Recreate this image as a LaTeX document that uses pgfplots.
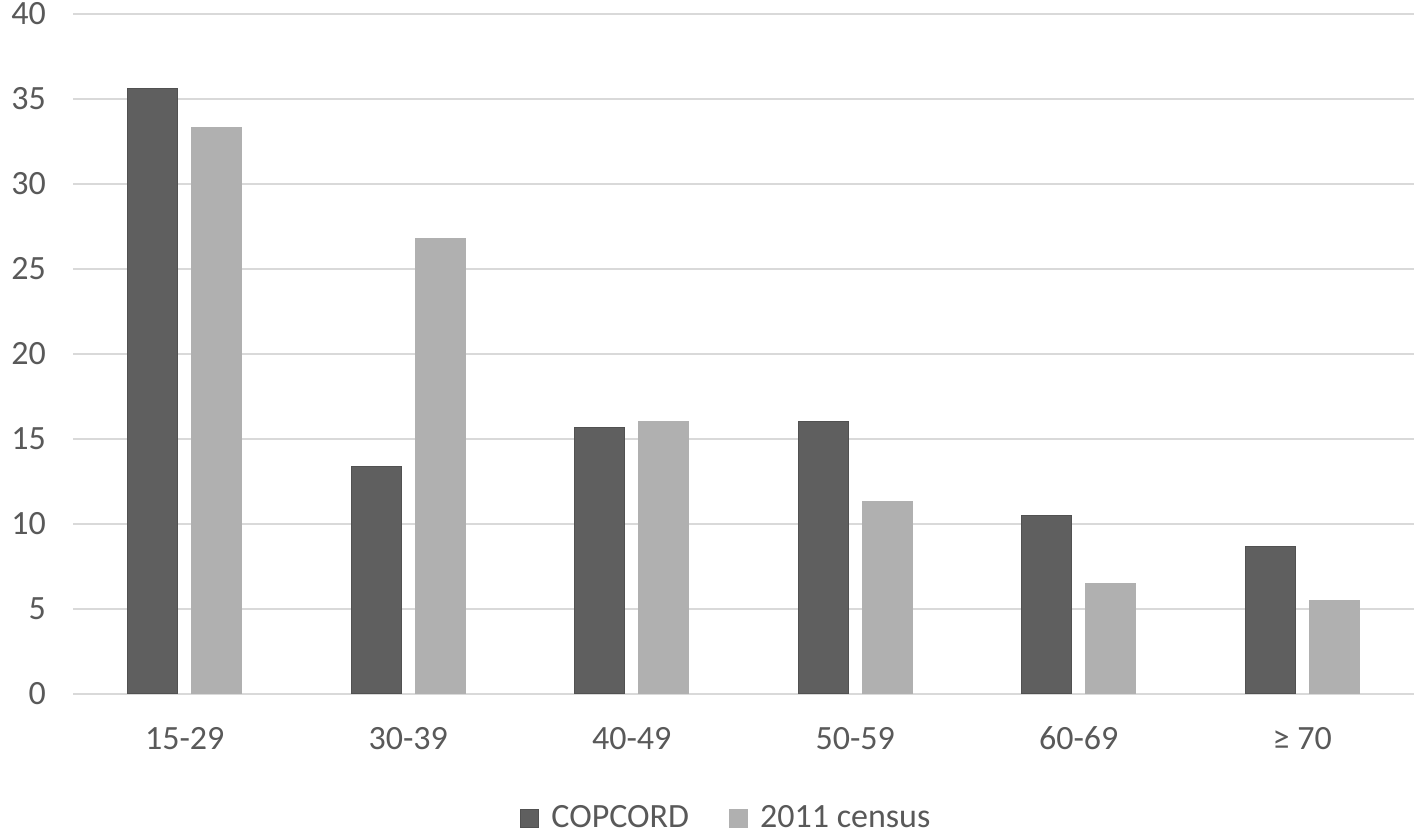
\documentclass[border=0pt]{standalone}
\usepackage{pgfplots}
\pgfplotsset{compat=1.18}
\usepackage{fontspec}
\setmainfont{Carlito}
\definecolor{darkbar}{HTML}{5F5F5F}
\definecolor{lightbar}{HTML}{B0B0B0}
\definecolor{gridc}{HTML}{D9D9D9}
\definecolor{txt}{HTML}{595959}
\begin{document}
\begin{tikzpicture}
\path[use as bounding box] (-36.5pt,-70pt) rectangle (672.5pt,347pt);
\begin{axis}[
  at={(0pt,0pt)}, anchor=south west,
  scale only axis,
  width=670.5pt, height=340pt,
  ybar=7pt, bar width=25pt,
  xmin=-0.5, xmax=5.5,
  ymin=0, ymax=40,
  ytick={0,5,...,40},
  xtick=data,
  xticklabels={15-29,30-39,40-49,50-59,60-69,{≥ 70}},
  axis line style={draw=none},
  major tick length=0pt,
  ymajorgrids,
  grid style={gridc, line width=1.3pt},
  tick label style={font=\fontsize{17}{20}\selectfont, text=txt},
  /pgf/number format/assume math mode=true,
  yticklabel style={xshift=-10pt},
  xticklabel style={yshift=-12pt, text height=12pt, text depth=3pt},
  legend style={at={(0.488,0)}, anchor=center, yshift=-62pt, draw=none,
    font=\fontsize{17}{20}\selectfont, text=txt, legend columns=2,
    /tikz/every even column/.append style={column sep=18pt}},
  legend image code/.code={\fill[#1] (0pt,-4.5pt) rectangle (9pt,4.5pt);},
]
\addplot[fill=darkbar, draw=darkbar!85!black, line width=0.5pt] coordinates {(0,35.6) (1,13.4) (2,15.65) (3,16.0) (4,10.5) (5,8.7)};
\addplot[fill=lightbar, draw=lightbar, line width=0.5pt] coordinates {(0,33.35) (1,26.8) (2,16.05) (3,11.3) (4,6.5) (5,5.5)};
\legend{\hspace{4pt}COPCORD, \hspace{4pt}2011 census}
\end{axis}
\end{tikzpicture}
\end{document}
